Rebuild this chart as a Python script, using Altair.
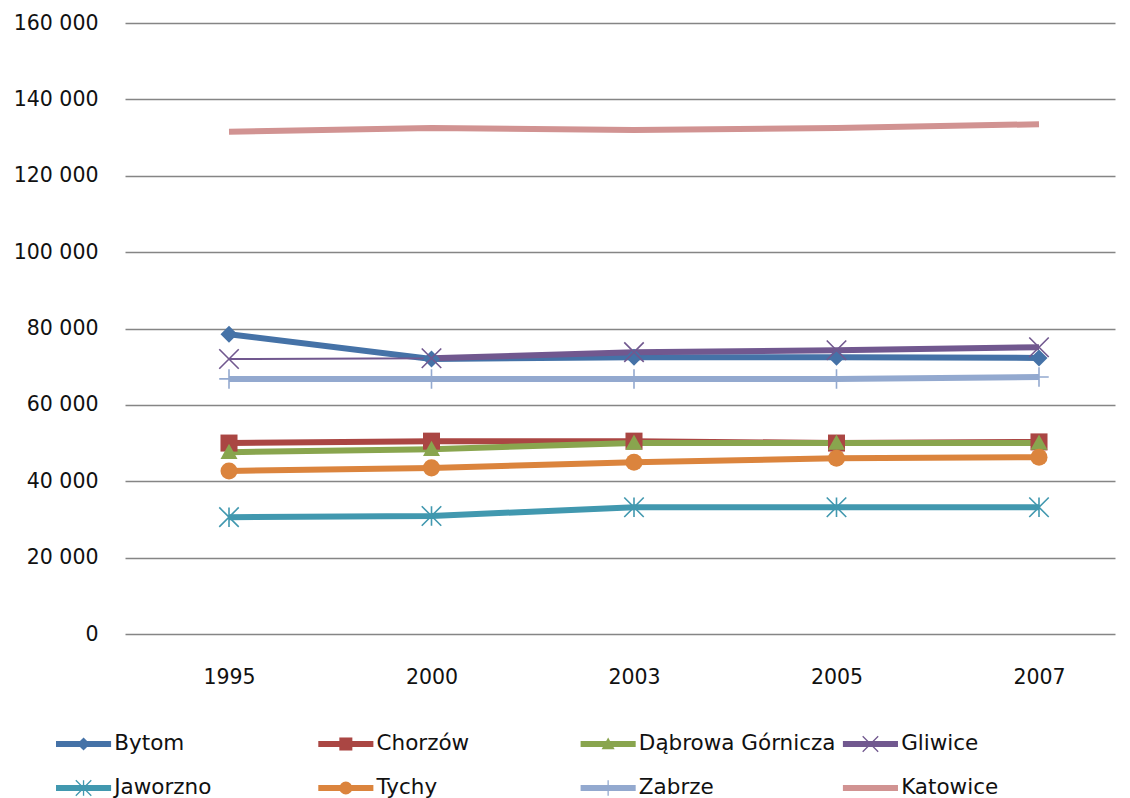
import altair as alt
import pandas as pd

years = ["1995", "2000", "2003", "2005", "2007"]
series_names = ["Bytom", "Chorzów", "Dąbrowa Górnicza", "Gliwice",
                "Jaworzno", "Tychy", "Zabrze", "Katowice"]
bytom = [78500, 72000, 72500, 72500, 72300]
chorzow = [50000, 50500, 50500, 50000, 50300]
dabrowa = [47600, 48400, 50000, 50000, 50000]
gliwice = [72000, 72200, 73800, 74300, 75100]
jaworzno = [30600, 30900, 33200, 33200, 33200]
tychy = [42700, 43500, 45000, 46000, 46300]
zabrze = [66800, 66800, 66800, 66800, 67300]
katowice = [131500, 132500, 132000, 132500, 133500]
y_ticks = [0, 20000, 40000, 60000, 80000, 100000, 120000, 140000, 160000]

colors = ["#4572A7", "#AA4643", "#89A54E", "#71588F",
          "#4198AF", "#DB843D", "#93A9CF", "#D19392"]
shapes = ["M0,-1L1,0L0,1L-1,0Z", "square", "M0,-1L1,0.8L-1,0.8Z",
          "M-1,-1L1,1M-1,1L1,-1", "M-1,-1L1,1M-1,1L1,-1M0,-1L0,1",
          "circle", "M0,-1L0,1M-1,0L1,0", "circle"]
filled_series = ["Bytom", "Chorzów", "Dąbrowa Górnicza", "Tychy"]
stroked_series = ["Gliwice", "Jaworzno", "Zabrze"]

values = [bytom, chorzow, dabrowa, gliwice, jaworzno, tychy, zabrze, katowice]
rows = []
for name, vals in zip(series_names, values):
    for i, (yr, v) in enumerate(zip(years, vals)):
        rows.append({"series": name, "year": yr, "idx": i, "value": v})
df = pd.DataFrame(rows)

FONT = "DejaVu Sans"
W, H = 990, 611
X_STEP, X_OFF = 202.5, 104.0
color_scale = alt.Scale(domain=series_names, range=colors)
shape_scale = alt.Scale(domain=series_names, range=shapes)

year_lookup = "[" + ",".join("'%s'" % y for y in years) + "][datum.value]"
x_enc = alt.X("idx:Q",
              scale=alt.Scale(domain=[-X_OFF / X_STEP, (W - X_OFF) / X_STEP], nice=False, zero=False),
              axis=alt.Axis(title=None, values=list(range(len(years))), labelExpr=year_lookup,
                            labelAngle=0, ticks=False, domain=False,
                            grid=False, labelPadding=33, labelFontSize=20.5,
                            labelFont=FONT, labelColor="#111111"))
y_enc = alt.Y("value:Q", scale=alt.Scale(domain=[0, 160000], nice=False),
              axis=alt.Axis(title=None, values=y_ticks, ticks=False, domain=False,
                            grid=True, gridColor="#858585", gridWidth=1.6,
                            labelPadding=27, labelFontSize=20.5, labelFont=FONT,
                            labelColor="#111111",
                            labelExpr="replace(format(datum.value, ','), ',', ' ')"))
c_enc = alt.Color("series:N", scale=color_scale, legend=None)

base = alt.Chart(df).encode(x=x_enc, y=y_enc, color=c_enc)

lines_main = base.transform_filter(
    alt.FieldOneOfPredicate(field="series", oneOf=[s for s in series_names if s != "Gliwice"])
).mark_line(strokeWidth=6)
gl_thin = base.transform_filter(alt.datum.series == "Gliwice").mark_line(strokeWidth=2)
gl_thick = base.transform_filter(
    (alt.datum.series == "Gliwice") & (alt.datum.year != "1995")
).mark_line(strokeWidth=6)

pts_filled = base.transform_filter(
    alt.FieldOneOfPredicate(field="series", oneOf=filled_series)
).mark_point(filled=True, size=290, opacity=1).encode(
    shape=alt.Shape("series:N", scale=shape_scale, legend=None))
pts_stroked = base.transform_filter(
    alt.FieldOneOfPredicate(field="series", oneOf=stroked_series)
).mark_point(filled=False, size=380, strokeWidth=1.6, opacity=1).encode(
    shape=alt.Shape("series:N", scale=shape_scale, legend=None))

main = alt.layer(lines_main, gl_thin, gl_thick, pts_filled, pts_stroked).properties(
    width=W, height=H)

# legend built from the same series list (origin aligned with plot origin)
leg_rows = []
for i, name in enumerate(series_names):
    c = i % 4
    r = i // 4
    leg_rows.append({"series": name, "row": r, "x0": c, "x1": c + 0.21,
                     "xm": c + 0.105, "xt": c + 0.222})
leg_df = pd.DataFrame(leg_rows)

LEG_START = -69
LEG_COL = 262.3
lx = alt.Scale(domain=[0, 4], range=[LEG_START, LEG_START + 4 * LEG_COL])
ly = alt.Scale(domain=[0, 1], range=[36, 80])
lbase = alt.Chart(leg_df)
leg_line = lbase.mark_rule(strokeWidth=6).encode(
    x=alt.X("x0:Q", scale=lx, axis=None), x2="x1:Q",
    y=alt.Y("row:Q", scale=ly, axis=None), color=c_enc)
leg_fill = lbase.transform_filter(
    alt.FieldOneOfPredicate(field="series", oneOf=filled_series)
).mark_point(filled=True, size=170, opacity=1).encode(
    x=alt.X("xm:Q", scale=lx, axis=None), y=alt.Y("row:Q", scale=ly, axis=None),
    color=c_enc, shape=alt.Shape("series:N", scale=shape_scale, legend=None))
leg_stroke = lbase.transform_filter(
    alt.FieldOneOfPredicate(field="series", oneOf=stroked_series)
).mark_point(filled=False, size=240, strokeWidth=1.3, opacity=1).encode(
    x=alt.X("xm:Q", scale=lx, axis=None), y=alt.Y("row:Q", scale=ly, axis=None),
    color=c_enc, shape=alt.Shape("series:N", scale=shape_scale, legend=None))
leg_text = lbase.mark_text(align="left", baseline="middle", fontSize=21.5,
                           font=FONT, color="#111111").encode(
    x=alt.X("xt:Q", scale=lx, axis=None), y=alt.Y("row:Q", scale=ly, axis=None),
    text="series:N")
legend = alt.layer(leg_line, leg_fill, leg_stroke, leg_text).properties(
    width=W, height=80)

chart = alt.vconcat(main, legend, spacing=20).configure_view(stroke=None)

chart.save("out.html", embed_options={"renderer": "svg", "actions": False})
